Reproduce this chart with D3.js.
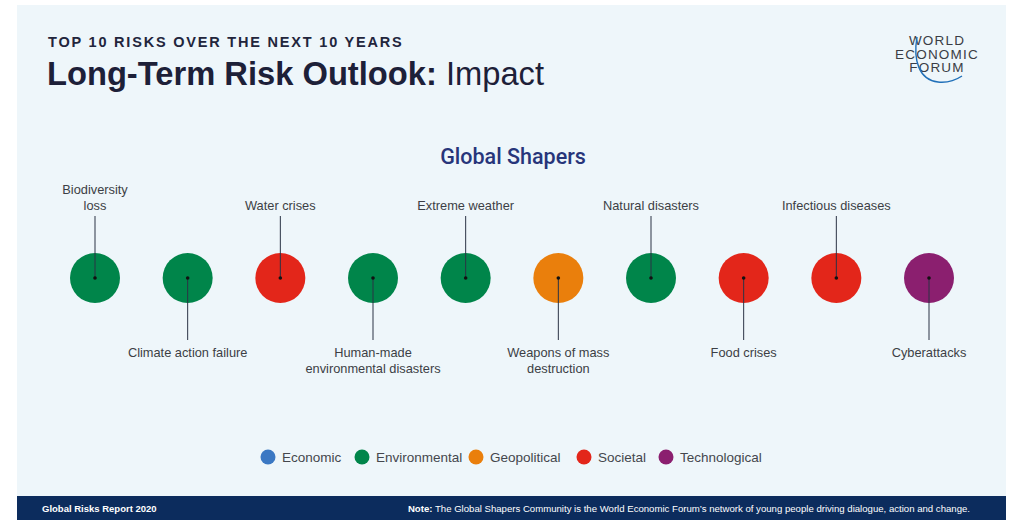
<!DOCTYPE html>
<html>
<head>
<meta charset="utf-8">
<script src="https://cdn.jsdelivr.net/npm/d3@7"></script>
<style>
  body { margin: 0; background: #fff; }
  svg { display: block; font-family: "Liberation Sans", Arial, sans-serif; }
</style>
</head>
<body>
<div id="chart"></div>
<script>
// risks in order (left to right) and their category
const risks = [
  "Biodiversity loss", "Climate action failure", "Water crises",
  "Human-made environmental disasters", "Extreme weather",
  "Weapons of mass destruction", "Natural disasters", "Food crises",
  "Infectious diseases", "Cyberattacks"
];
const riskCategory = [
  "Environmental", "Environmental", "Societal", "Environmental", "Environmental",
  "Geopolitical", "Environmental", "Societal", "Societal", "Technological"
];
// how the labels wrap
const riskLabelLines = [
  ["Biodiversity", "loss"], ["Climate action failure"], ["Water crises"],
  ["Human-made", "environmental disasters"], ["Extreme weather"],
  ["Weapons of mass", "destruction"], ["Natural disasters"], ["Food crises"],
  ["Infectious diseases"], ["Cyberattacks"]
];
const categories = ["Economic", "Environmental", "Geopolitical", "Societal", "Technological"];
const categoryColors = ["#3b78c3", "#00854a", "#ea7f0c", "#e3261a", "#8b1f6f"];

const width = 1009, height = 520;
const svg = d3.select('#chart').append('svg')
  .attr('width', width)
  .attr('height', height);

// panel + footer
svg.append('rect').attr('x', 17).attr('y', 5).attr('width', 989).attr('height', 491)
  .attr('fill', '#eef6fa');
svg.append('rect').attr('x', 17).attr('y', 496).attr('width', 989).attr('height', 24)
  .attr('fill', '#0c2c5d');

// titles
svg.append('text').attr('x', 48).attr('y', 47)
  .attr('font-size', 14.5).attr('font-weight', 'bold').attr('letter-spacing', 1.8)
  .attr('fill', '#22253c')
  .text('TOP 10 RISKS OVER THE NEXT 10 YEARS');
const title = svg.append('text').attr('x', 47).attr('y', 85)
  .attr('font-size', 32.7).attr('fill', '#1d2038');
title.append('tspan').attr('font-weight', 'bold').text('Long-Term Risk Outlook:');
title.append('tspan').text(' Impact');

// logo
const logo = svg.append('g').attr('fill', '#3a3d45').attr('font-size', 13.5)
  .attr('text-anchor', 'middle').attr('letter-spacing', 1.2);
['WORLD', 'ECONOMIC', 'FORUM'].forEach((t, i) => {
  logo.append('text').attr('x', 937).attr('y', 45 + i * 13.5).text(t);
});
logo.append('path')
  .attr('d', 'M917,37 C913,60 919,80 938,82 C948,83 956,80 962,76')
  .attr('fill', 'none').attr('stroke', '#1f6fb8').attr('stroke-width', 1.4);

svg.append('text').attr('x', 513).attr('y', 164)
  .attr('text-anchor', 'middle').attr('font-size', 21.5)
  .attr('font-family', 'Roboto, "Liberation Sans", sans-serif').attr('font-weight', 500)
  .attr('fill', '#27357a')
  .text('Global Shapers');

const x = d3.scalePoint().domain(risks).range([95, 929]);
const color = d3.scaleOrdinal().domain(categories).range(categoryColors);
const cy = 278;

const g = svg.append('g');
const items = g.selectAll('g.risk').data(risks).join('g').attr('class', 'risk');

items.append('circle')
  .attr('cx', d => x(d)).attr('cy', cy).attr('r', 25)
  .attr('fill', (d, i) => color(riskCategory[i]));

items.append('line')
  .attr('x1', d => x(d)).attr('x2', d => x(d))
  .attr('y1', cy)
  .attr('y2', (d, i) => i % 2 === 0 ? 216 : 340)
  .attr('stroke', '#2b3345').attr('stroke-width', 1);

items.append('circle')
  .attr('cx', d => x(d)).attr('cy', cy).attr('r', 1.8)
  .attr('fill', '#111');

items.each(function (d, i) {
  const lines = riskLabelLines[i];
  const t = d3.select(this).append('text')
    .attr('text-anchor', 'middle').attr('font-size', 12.8)
    .attr('fill', '#3c3f45');
  lines.forEach((ln, j) => {
    const y = i % 2 === 0 ? 210 - (lines.length - 1 - j) * 16 : 357 + j * 16;
    t.append('tspan').attr('x', x(d)).attr('y', y).text(ln);
  });
});

// legend
const legendX = [268, 362, 476, 584, 666];
const legend = svg.append('g').selectAll('g').data(categories).join('g')
  .attr('transform', (d, i) => `translate(${legendX[i]},457)`);
legend.append('circle').attr('r', 7.5).attr('fill', d => color(d));
legend.append('text').attr('x', 14).attr('y', 5)
  .attr('font-size', 13.5).attr('fill', '#44474d').text(d => d);

// footer text
svg.append('text').attr('x', 42).attr('y', 512)
  .attr('font-size', 9.5).attr('font-weight', 'bold').attr('fill', '#fff')
  .text('Global Risks Report 2020');
const note = svg.append('text').attr('x', 970).attr('y', 512)
  .attr('text-anchor', 'end').attr('font-size', 9.6).attr('fill', '#fff');
note.append('tspan').attr('font-weight', 'bold').text('Note:');
note.append('tspan').text(' The Global Shapers Community is the World Economic Forum\u2019s network of young people driving dialogue, action and change.');
</script>
</body>
</html>
